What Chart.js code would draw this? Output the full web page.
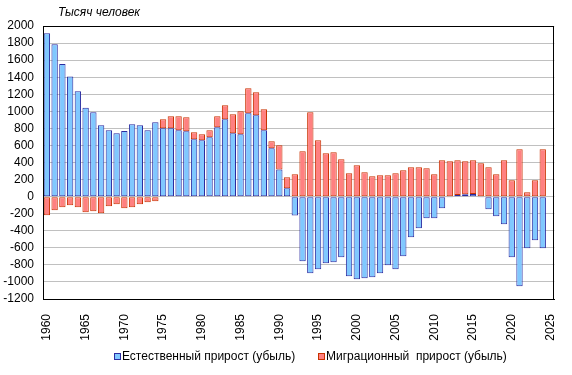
<!DOCTYPE html>
<html>
<head>
<meta charset="utf-8">
<script src="https://cdn.jsdelivr.net/npm/chart.js@4.4.1/dist/chart.umd.min.js"></script>
<style>
  html, body { margin: 0; padding: 0; background: #fff; }
  #wrap { width: 572px; height: 375px; }
</style>
</head>
<body>
<div id="wrap"><canvas id="popChart" width="572" height="375"></canvas></div>
<script>
// годы 1960..2025 (2025 - пустая категория)
var years = [];
for (var y = 1960; y <= 2025; y++) years.push(String(y));

var naturalGrowth = [
  1915, 1786, 1556, 1407, 1236, 1043, 989, 837, 778, 743,
  770, 849, 837, 778, 872, 802, 802, 778, 766, 673,
  661, 696, 813, 907, 743, 731, 977, 954, 778, 567,
  317, 98, -222, -757, -898, -851, -781, -769, -711, -933,
  -969, -957, -945, -898, -804, -851, -699, -476, -371, -253,
  -253, -136, -10, 20, 28, 30, -5, -148, -230, -324,
  -711, -1050, -605, -511, -605, null
];

var migrationGrowth = [
  -218, -160, -124, -101, -124, -183, -172, -195, -113, -89,
  -136, -124, -89, -66, -54, 105, 140, 164, 164, 82,
  70, 82, 129, 164, 223, 270, 294, 270, 247, 82,
  285, 129, 262, 532, 989, 661, 509, 520, 438, 274,
  368, 286, 239, 251, 251, 274, 309, 345, 345, 333,
  262, 426, 415, 406, 387, 396, 391, 345, 262, 426,
  192, 555, 51, 192, 555, null
];

var yTicks = { min: -1200, max: 2000, step: 200 };

var font = 'Liberation Sans, Arial, sans-serif';

// рамка, подпись единиц и легенда внизу
const frameAndTitle = {
  id: 'frameAndTitle',
  afterDraw: function (chart) {
    var ctx = chart.ctx;
    var a = chart.chartArea;
    ctx.save();
    ctx.strokeStyle = '#000';
    ctx.lineWidth = 1;
    ctx.strokeRect(Math.round(a.left) + 0.5, Math.round(a.top) + 0.5,
      Math.round(a.right - a.left) - 1, Math.round(a.bottom - a.top));
    ctx.fillStyle = '#000';
    ctx.font = 'italic 12px ' + font;
    ctx.textBaseline = 'middle';
    ctx.fillText('Тысяч человек', 58, 13);

    var items = [[114, 0], [318, 1]];
    ctx.font = '12px ' + font;
    items.forEach(function (it) {
      var ds = chart.data.datasets[it[1]];
      ctx.fillStyle = ds.backgroundColor;
      ctx.fillRect(it[0] + 0.5, 353.5, 6, 6);
      ctx.strokeStyle = ds.borderColor;
      ctx.strokeRect(it[0] + 0.5, 353.5, 6, 6);
      ctx.fillStyle = '#000';
      ctx.fillText(ds.label, it[0] + 8, 356.5);
    });
    ctx.restore();
  }
};

var config = {
  type: 'bar',
  data: {
    labels: years,
    datasets: [
      {
        label: 'Естественный прирост (убыль)',
        data: naturalGrowth,
        backgroundColor: '#80C8FF',
        borderColor: '#2B2BA0',
        borderWidth: 1,
        borderSkipped: false
      },
      {
        label: 'Миграционный  прирост (убыль)',
        data: migrationGrowth,
        backgroundColor: '#FF8080',
        borderColor: '#C83200',
        borderWidth: 1,
        borderSkipped: false
      }
    ]
  },
  options: {
    responsive: false,
    animation: false,
    layout: {
      padding: { left: 0, right: 14, top: 26, bottom: 31 }
    },
    datasets: {
      bar: { barPercentage: 0.82, categoryPercentage: 1 }
    },
    plugins: {
      tooltip: { enabled: false },
      legend: { display: false }
    },
    scales: {
      x: {
        stacked: true,
        grid: { display: false },
        border: { display: true, color: '#000' },
        afterFit: function (scale) { scale.height = 45; },
        ticks: {
          autoSkip: false,
          maxRotation: 90,
          minRotation: 90,
          padding: 7,
          color: '#000',
          font: { family: font, size: 12 },
          callback: function (value, index) {
            var yr = Number(years[index]);
            return yr % 5 === 0 ? years[index] : '';
          }
        }
      },
      y: {
        stacked: true,
        min: yTicks.min,
        max: yTicks.max,
        afterFit: function (scale) { scale.width = 43; },
        grid: { color: '#C0C0C0', drawTicks: false },
        border: { display: true, color: '#000' },
        ticks: {
          stepSize: yTicks.step,
          autoSkip: false,
          padding: 9,
          color: '#000',
          font: { family: font, size: 12 },
          callback: function (value) {
            return String(value);
          }
        }
      }
    }
  },
  plugins: [frameAndTitle]
};

new Chart(document.getElementById('popChart').getContext('2d'), config);
</script>
</body>
</html>
